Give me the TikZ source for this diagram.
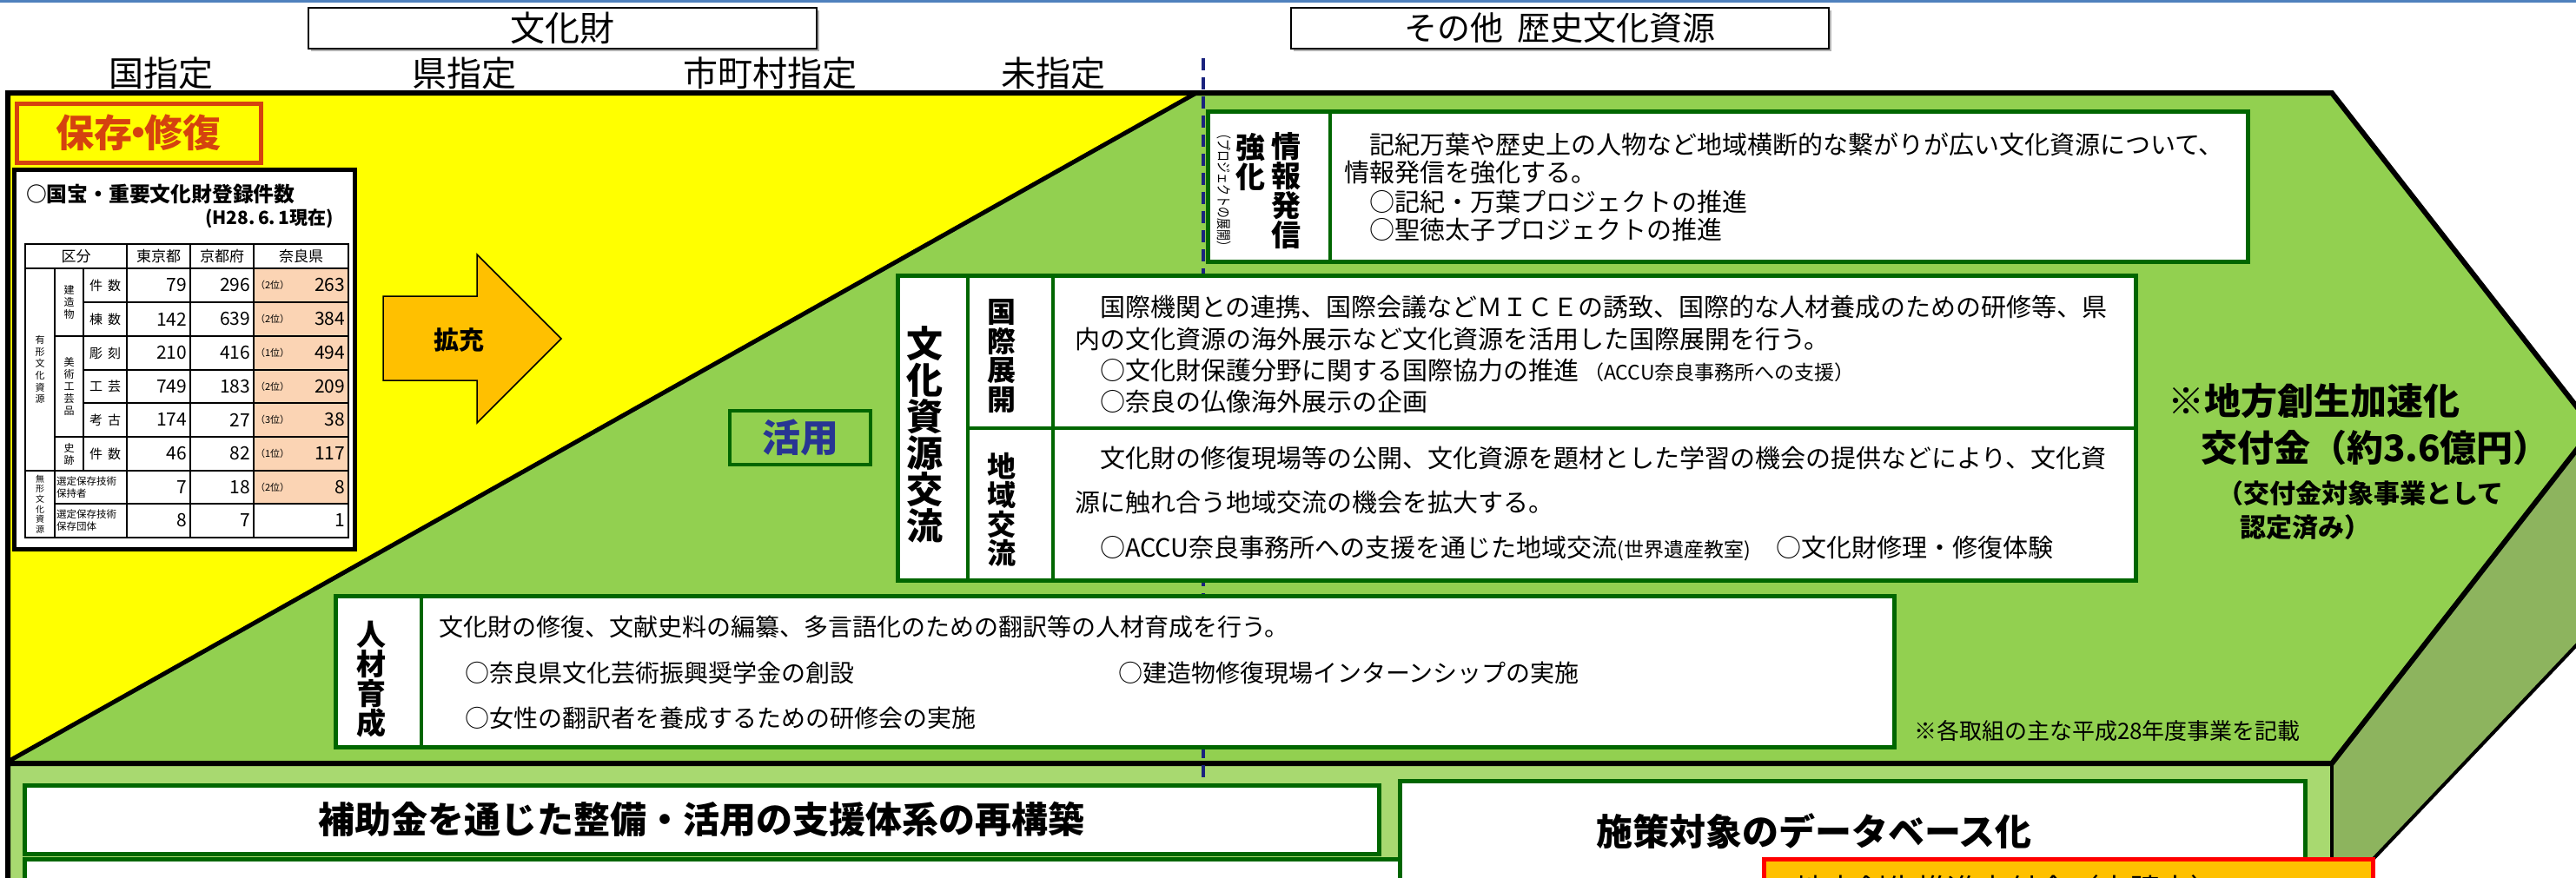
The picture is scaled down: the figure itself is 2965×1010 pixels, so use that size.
\documentclass[tikz,border=0pt]{standalone}
\usepackage{fontspec}
\usepackage{graphicx}
\setmainfont{Noto Sans CJK JP}
\definecolor{topblue}{HTML}{4F81BD}
\definecolor{ylw}{HTML}{FFFF00}
\definecolor{grn}{HTML}{92D050}
\definecolor{lgrn}{HTML}{A8D970}
\definecolor{olive}{HTML}{8DB45E}
\definecolor{dgrn}{HTML}{006600}
\definecolor{peach}{HTML}{FBD4B4}
\definecolor{orng}{HTML}{FFC000}
\definecolor{redor}{HTML}{D5420F}
\definecolor{actblue}{HTML}{283593}
\definecolor{navyd}{HTML}{1A237E}
\begin{document}
\begin{tikzpicture}[x=1pt,y=-1pt,
  every node/.style={inner sep=0pt, outer sep=0pt},
  hdr/.style={font=\fontsize{40}{44}\selectfont},
  hdrbox/.style={draw=black, line width=2pt, fill=white, anchor=north west},
  gbox/.style={draw=dgrn, line width=5pt, fill=white, anchor=north west},
  divl/.style={dgrn, line width=4pt},
  body/.style={font=\fontsize{29}{32}\selectfont, anchor=west},
  bodyb/.style={font=\fontsize{28}{32}\selectfont, anchor=west},
  lbl/.style={font=\bfseries\fontsize{34}{34}\selectfont, align=center},
  tline/.style={line width=1.2pt},
  tnum/.style={font=\fontsize{21}{21}\selectfont, anchor=east},
  trank/.style={font=\fontsize{11}{11}\selectfont, anchor=west},
  tlab/.style={font=\fontsize{15}{15}\selectfont},
  tvert/.style={font=\fontsize{12}{14}\selectfont, align=center},
  thead/.style={font=\fontsize{17}{17}\selectfont},
  big/.style={font=\bfseries\fontsize{42}{42}\selectfont},
]
\useasboundingbox (0,0) rectangle (2965,1010);
\clip (0,0) rectangle (2965,1010);

% top rule
\fill[topblue] (0,0) rectangle (2965,3);

% headers
\fill[gray!60] (358,12) rectangle (943,59);
\fill[gray!60] (1489,12) rectangle (2108,59);
\node[hdrbox, minimum width=585pt, minimum height=47pt, hdr] (bunka) at (355,9) {文化財};
\node[hdrbox, minimum width=619pt, minimum height=47pt, font=\fontsize{38}{42}\selectfont] (sonota) at (1486,9) {その他\hspace{16pt}歴史文化資源};
\node[hdr] (kuni) at (185,84) {国指定};
\node[hdr] (ken) at (534,84) {県指定};
\node[hdr] (shi) at (886,84) {市町村指定};
\node[hdr] (mi) at (1212,84) {未指定};

% big arrow body
\fill[grn] (9,107) -- (2684,107) -- (2985,493) -- (2684,879) -- (9,879) -- cycle;
\fill[ylw] (9,107) -- (1377,107) -- (9,877) -- cycle;
\fill[lgrn] (9,879) rectangle (2684,1015);
\fill[olive] (2684,879) -- (2985,493) -- (3010,493) -- (3010,696) -- (2707,1015) -- (2684,1015) -- cycle;
\draw[line width=6pt, line join=miter] (9,1015) -- (9,107) -- (2684,107) -- (2985,493) -- (2684,879) -- (9,879);
\draw[line width=4pt] (2684,879) -- (2684,1015);
\draw[line width=5pt] (1377,107) -- (9,877);
\draw[line width=4pt] (3010,696) -- (2707,1015);

% dashed divider
\coordinate (dtop) at (1385,67);
\coordinate (dbot) at (1385,1012);
\draw[navyd, line width=3.5pt, dash pattern=on 14pt off 8pt] (dtop) -- (dbot);

% preservation label
\node[draw=redor, line width=5pt, fill=ylw, anchor=north west, minimum width=281pt, minimum height=68pt,
      text=redor, font=\bfseries\fontsize{44}{44}\selectfont] (hozon) at (19,119) {保存\kern-15pt・\kern-15pt修復};

% table box
\node[draw=black, line width=5pt, fill=white, anchor=north west, minimum width=392pt, minimum height=437pt] (tblbox) at (16,195) {};
\node[anchor=west, font=\bfseries\fontsize{23.8}{24}\selectfont] (ttitle) at (30,223) {○国宝・重要文化財登録件数};
\node[anchor=east, font=\bfseries\fontsize{21}{21}\selectfont] (tdate) at (384,252) {(H28.\,6.\,1現在)};

\fill[peach] (292,309) rectangle (401,580);
\draw[tline] (29,281) rectangle (401,619);
\draw[tline] (29,309) -- (401,309);
\draw[tline] (96,348) -- (401,348);
\draw[tline] (63,387) -- (401,387);
\draw[tline] (96,426) -- (401,426);
\draw[tline] (96,464) -- (401,464);
\draw[tline] (63,503) -- (401,503);
\draw[tline] (29,542) -- (401,542);
\draw[tline] (63,580) -- (401,580);
\draw[tline] (63,309) -- (63,619);
\draw[tline] (96,309) -- (96,542);
\foreach \xx in {146,219,292} \draw[tline] (\xx,281) -- (\xx,619);

\node[thead] (hkubun) at (87.5,295) {区分};
\node[thead] (htokyo) at (182.5,295) {東京都};
\node[thead] (hkyoto) at (255.5,295) {京都府};
\node[thead] (hnara) at (346.5,295) {奈良県};

\foreach \vi/\vy/\vlab/\va/\vb/\vr/\vc in {1/328.5/件\hspace{6pt}数/79/296/2/263, 2/367.5/棟\hspace{6pt}数/142/639/2/384, 3/406.5/彫\hspace{6pt}刻/210/416/1/494, 4/445/工\hspace{6pt}芸/749/183/2/209, 5/483.5/考\hspace{6pt}古/174/27/3/38, 6/522.5/件\hspace{6pt}数/46/82/1/117}{
  \node[tlab] (lab\vi) at (121,\vy) {\vlab};
  \node[tnum] (tk\vi) at (215,\vy) {\va};
  \node[tnum] (kt\vi) at (288,\vy) {\vb};
  \node[trank] (rk\vi) at (294,\vy) {（\vr 位）};
  \node[tnum] (nr\vi) at (397,\vy) {\vc};
}
\node[font=\fontsize{11.5}{14}\selectfont, align=left, anchor=west] (sen1) at (65,561) {選定保存技術\\保持者};
\node[tnum] (tk7) at (215,561) {7};
\node[tnum] (kt7) at (288,561) {18};
\node[trank] (rk7) at (294,561) {（2位）};
\node[tnum] (nr7) at (397,561) {8};
\node[font=\fontsize{11.5}{14}\selectfont, align=left, anchor=west] (sen2) at (65,599.5) {選定保存技術\\保存団体};
\node[tnum] (tk8) at (215,599.5) {8};
\node[tnum] (kt8) at (288,599.5) {7};
\node[tnum] (nr8) at (397,599.5) {1};

\node[tvert] (kenzo) at (79.5,348) {建\\造\\物};
\node[tvert] (bijutsu) at (79.5,445) {美\\術\\工\\芸\\品};
\node[tvert] (shiseki) at (79.5,522.5) {史\\跡};
\node[font=\fontsize{11}{13.7}\selectfont, align=center] (yukei) at (46,425.5) {有\\形\\文\\化\\資\\源};
\node[font=\fontsize{10}{11.7}\selectfont, align=center] (mukei) at (46,580.5) {無\\形\\文\\化\\資\\源};

% expand arrow
\fill[orng, draw=black, line width=1.5pt] (441,341) -- (549,341) -- (549,293) -- (646,390) -- (549,487) -- (549,438) -- (441,438) -- cycle;
\node[font=\bfseries\fontsize{29}{29}\selectfont] (kakuju) at (528,392) {拡充};

% katsuyo
\node[draw=dgrn, line width=4pt, fill=grn, anchor=north west, minimum width=162pt, minimum height=62pt,
      text=actblue, font=\bfseries\fontsize{44}{44}\selectfont] (katsuyo) at (840,473) {活用};

% information box
\node[gbox, minimum width=1197pt, minimum height=173pt] (jhbox) at (1390,128) {};
\draw[divl] (1531,128) -- (1531,301);
\node[lbl] (jhlab) at (1480,220) {情\\報\\発\\信};
\node[lbl] (kyoka) at (1439,187) {強\\化};
\node[font=\fontsize{17}{17}\selectfont, rotate=-90] (pj) at (1409,219) {\scalebox{0.76}[1]{（プロジェクトの展開）}};
\node[body] (jh1) at (1547,167) {　記紀万葉や歴史上の人物など地域横断的な繋がりが広い文化資源について、};
\node[body] (jh2) at (1547,199) {情報発信を強化する。};
\node[body] (jh3) at (1547,232) {　○記紀・万葉プロジェクトの推進};
\node[body] (jh4) at (1547,264) {　○聖徳太子プロジェクトの推進};

% cultural exchange box
\node[gbox, minimum width=1425pt, minimum height=351pt] (bkbox) at (1033,317) {};
\draw[divl] (1114,317) -- (1114,668);
\draw[divl] (1212,317) -- (1212,668);
\draw[divl] (1114,493) -- (2458,493);
\node[font=\bfseries\fontsize{42}{42}\selectfont, align=center] (bklab) at (1064,500) {文\\化\\資\\源\\交\\流};
\node[lbl, font=\bfseries\fontsize{33}{33.5}\selectfont] (kokusai) at (1153,410) {国\\際\\展\\開};
\node[lbl, font=\bfseries\fontsize{33}{33.5}\selectfont] (chiiki) at (1153,587) {地\\域\\交\\流};
\node[body] (kk1) at (1237,354) {　国際機関との連携、国際会議などＭＩＣＥの誘致、国際的な人材養成のための研修等、県};
\node[body] (kk2) at (1237,391) {内の文化資源の海外展示など文化資源を活用した国際展開を行う。};
\node[body] (kk3) at (1237,427) {　○文化財保護分野に関する国際協力の推進{\fontsize{23}{23}\selectfont\hspace{6pt}（ACCU奈良事務所への支援）}};
\node[body] (kk4) at (1237,462) {　○奈良の仏像海外展示の企画};
\node[body] (ck1) at (1237,527) {　文化財の修復現場等の公開、文化資源を題材とした学習の機会の提供などにより、文化資};
\node[body] (ck2) at (1237,579) {源に触れ合う地域交流の機会を拡大する。};
\node[body] (ck3) at (1237,632) {　○ACCU奈良事務所への支援を通じた地域交流{\fontsize{23}{23}\selectfont(世界遺産教室)}　○文化財修理・修復体験};

% human resources box
\node[gbox, minimum width=1794pt, minimum height=174pt] (jzbox) at (386,686) {};
\draw[divl] (485,686) -- (485,860);
\node[lbl] (jzlab) at (427,782) {人\\材\\育\\成};
\node[bodyb] (jz1) at (505,722) {文化財の修復、文献史料の編纂、多言語化のための翻訳等の人材育成を行う。};
\node[bodyb] (jz2) at (535,775) {○奈良県文化芸術振興奨学金の創設};
\node[bodyb] (jz3) at (1287,775) {○建造物修復現場インターンシップの実施};
\node[bodyb] (jz4) at (535,827) {○女性の翻訳者を養成するための研修会の実施};

% note
\node[anchor=west, font=\fontsize{26}{26}\selectfont] (note) at (2203,842) {※各取組の主な平成28年度事業を記載};

% grant text
\node[anchor=west, big] (kofu1) at (2495,462) {※地方創生加速化};
\node[anchor=west, big] (kofu2) at (2533,516) {交付金（約3.6億円）};
\node[anchor=west, font=\bfseries\fontsize{30}{30}\selectfont] (kofu3) at (2552,568) {（交付金対象事業として};
\node[anchor=west, font=\bfseries\fontsize{30}{30}\selectfont] (kofu4) at (2578,607) {認定済み）};

% lower boxes
\node[gbox, minimum width=1583pt, minimum height=60pt] (lowbox) at (28,989) {};
\node[gbox, minimum width=1559pt, minimum height=79pt, big] (hojo) at (28,904) {補助金を通じた整備・活用の支援体系の再構築};
\node[gbox, minimum width=1042pt, minimum height=140pt] (shisaku) at (1611,899) {};
\node[big] (shisakut) at (2088,957) {施策対象のデータベース化};
\node[draw=red, line width=5pt, fill=orng, anchor=north west, minimum width=701pt, minimum height=60pt] (suishin) at (2030,989) {};
\node[anchor=west, font=\fontsize{35}{35}\selectfont] (suishint) at (2066,1024) {地方創生推進交付金（申請中）};
\end{tikzpicture}
\end{document}
